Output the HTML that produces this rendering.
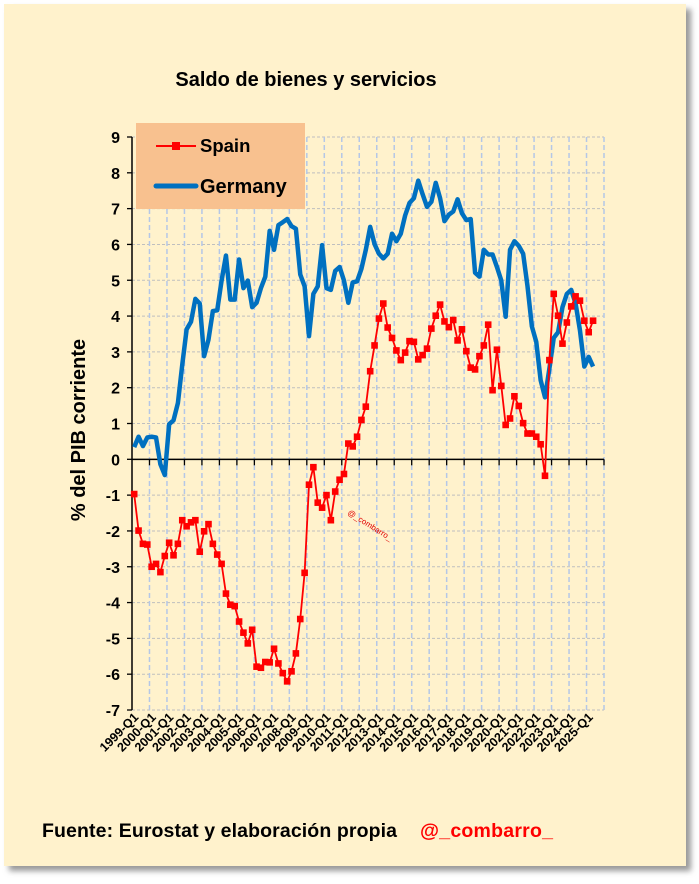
<!DOCTYPE html>
<html><head><meta charset="utf-8"><style>
body{margin:0;width:699px;height:879px;background:#fff;overflow:hidden;font-family:"Liberation Sans",sans-serif}
</style></head><body>
<svg width="699" height="879" xmlns="http://www.w3.org/2000/svg">
<defs><filter id="sh" x="-5%" y="-5%" width="110%" height="110%"><feGaussianBlur stdDeviation="3"/></filter></defs>
<rect x="9" y="9" width="682" height="862" fill="#999" filter="url(#sh)"/>
<rect x="4" y="4" width="682" height="862" fill="#FFF2CC"/>
<text x="306" y="86" text-anchor="middle" font-size="20" font-weight="bold" fill="#000">Saldo de bienes y servicios</text>
<g id="grid"></g>
<g id="axes"></g>
<text transform="translate(85,430) rotate(-90)" text-anchor="middle" font-size="20" font-weight="bold">% del PIB corriente</text>
<text transform="translate(347,514) rotate(32)" font-size="8" fill="#E00000">@_combarro_</text>
<g id="series"></g>
<rect x="136" y="123" width="169" height="86" fill="#F8C18F"/>
<g>
<line x1="156" y1="146" x2="196" y2="146" stroke="#FF0000" stroke-width="2"/>
<rect x="172" y="142" width="8" height="8" fill="#FF0000"/>
<text x="200" y="152" font-size="18.5" font-weight="bold">Spain</text></g>
<g>
<line x1="156" y1="186" x2="196" y2="186" stroke="#0070C0" stroke-width="5" stroke-linecap="round"/>
<text x="200" y="193" font-size="20" font-weight="bold">Germany</text></g>
<text x="42" y="837" font-size="19.5" font-weight="bold" textLength="355">Fuente: Eurostat y elaboración propia</text>
<text x="420" y="837" font-size="19.5" font-weight="bold" fill="#FF0000" textLength="133">@_combarro_</text>
</svg>
<script>
const yTicks=[9,8,7,6,5,4,3,2,1,0,-1,-2,-3,-4,-5,-6,-7];
const years=[1999,2000,2001,2002,2003,2004,2005,2006,2007,2008,2009,2010,2011,2012,2013,2014,2015,2016,2017,2018,2019,2020,2021,2022,2023,2024,2025];
const spain=[-0.97,-1.99,-2.36,-2.38,-3.0,-2.92,-3.15,-2.7,-2.33,-2.68,-2.36,-1.7,-1.87,-1.76,-1.7,-2.58,-2.01,-1.81,-2.36,-2.66,-2.92,-3.75,-4.06,-4.1,-4.53,-4.84,-5.14,-4.76,-5.79,-5.82,-5.66,-5.67,-5.29,-5.7,-5.97,-6.2,-5.92,-5.42,-4.46,-3.17,-0.71,-0.22,-1.21,-1.35,-1.0,-1.7,-0.9,-0.57,-0.41,0.44,0.36,0.63,1.1,1.47,2.46,3.18,3.93,4.35,3.68,3.39,3.04,2.77,2.98,3.3,3.28,2.79,2.91,3.09,3.65,4.01,4.32,3.85,3.69,3.89,3.32,3.63,3.02,2.56,2.51,2.88,3.18,3.76,1.93,3.06,2.05,0.96,1.14,1.76,1.49,1.01,0.72,0.72,0.63,0.42,-0.46,2.77,4.62,4.01,3.23,3.82,4.27,4.55,4.43,3.87,3.55,3.87];
const germany=[0.34,0.63,0.37,0.61,0.63,0.61,-0.14,-0.44,0.98,1.09,1.57,2.64,3.63,3.84,4.48,4.35,2.88,3.34,4.14,4.16,4.99,5.69,4.46,4.46,5.58,4.78,4.99,4.25,4.37,4.78,5.1,6.38,5.85,6.54,6.62,6.71,6.51,6.44,5.16,4.83,3.44,4.62,4.83,5.98,4.78,4.73,5.26,5.37,4.99,4.37,4.94,4.97,5.32,5.85,6.49,6.01,5.74,5.61,5.74,6.3,6.09,6.3,6.81,7.16,7.29,7.78,7.4,7.05,7.19,7.72,7.29,6.65,6.83,6.92,7.26,6.87,6.68,6.71,5.21,5.1,5.85,5.72,5.72,5.37,4.99,3.98,5.85,6.09,5.96,5.74,4.83,3.71,3.28,2.21,1.73,2.53,3.39,3.55,4.25,4.62,4.73,4.35,3.6,2.59,2.86,2.59];
const NS="http://www.w3.org/2000/svg";
const X0=132,X1=604,Y0=137,Y1=710,NSLOT=108;
const w=(X1-X0)/NSLOT;
function xq(i){return X0+(i+0.5)*w;}
function xb(i){return X0+i*w;}
function y(v){return Y0+(9-v)*(Y1-Y0)/16;}
function mk(tag,at,parent){const e=document.createElementNS(NS,tag);for(const k in at)e.setAttribute(k,at[k]);parent.appendChild(e);return e;}
const grid=document.getElementById('grid'),axes=document.getElementById('axes'),ser=document.getElementById('series');
yTicks.forEach(t=>{
 const g=mk('line',{x1:X0,x2:X1,y1:y(t),y2:y(t),stroke:'#BFBFBF','stroke-dasharray':'3,2','stroke-width':1},grid);
 
 
 const tk=mk('line',{x1:X0-5,x2:X0,y1:y(t),y2:y(t),stroke:'#000','stroke-width':1.3},axes);
 
 
 const l=mk('text',{x:X0-12,y:y(t)+6,'text-anchor':'end','font-size':16,'font-weight':'bold'},axes);
 l.textContent=t;
 
 
});
years.forEach((yr,k)=>{
 const xx=xb((k+1)*4);
 const g=mk('line',{x1:xx,x2:xx,y1:Y0,y2:Y1,stroke:'#B4C7E7','stroke-dasharray':'5,3','stroke-width':1.5},grid);
 
 
 const tk=mk('line',{x1:xx,x2:xx,y1:y(0),y2:y(0)+6,stroke:'#000','stroke-width':1.3},axes);
 
 
 const cx=xq(k*4);
 const l=mk('text',{transform:`translate(${cx+5},${Y1+8}) rotate(-45)`,'text-anchor':'end','font-size':12.5,'font-weight':'bold'},axes);
 l.textContent=yr+'-Q1';
 
 
});
let a=mk('line',{x1:X0,x2:X0,y1:Y0,y2:Y1,stroke:'#000','stroke-width':1.5},axes);


a=mk('line',{x1:X0,x2:X1,y1:y(0),y2:y(0),stroke:'#000','stroke-width':1.5},axes);


const gp=mk('polyline',{points:germany.map((v,i)=>xq(i)+','+y(v)).join(' '),fill:'none',stroke:'#0070C0','stroke-width':4.5,'stroke-linejoin':'round'},ser);


const sp=mk('polyline',{points:spain.map((v,i)=>xq(i)+','+y(v)).join(' '),fill:'none',stroke:'#FF0000','stroke-width':1.8},ser);


spain.forEach((v,i)=>{
 const m=mk('rect',{x:xq(i)-3.3,y:y(v)-3.3,width:6.6,height:6.6,fill:'#FF0000'},ser);
 
 
});
</script>
</body></html>
